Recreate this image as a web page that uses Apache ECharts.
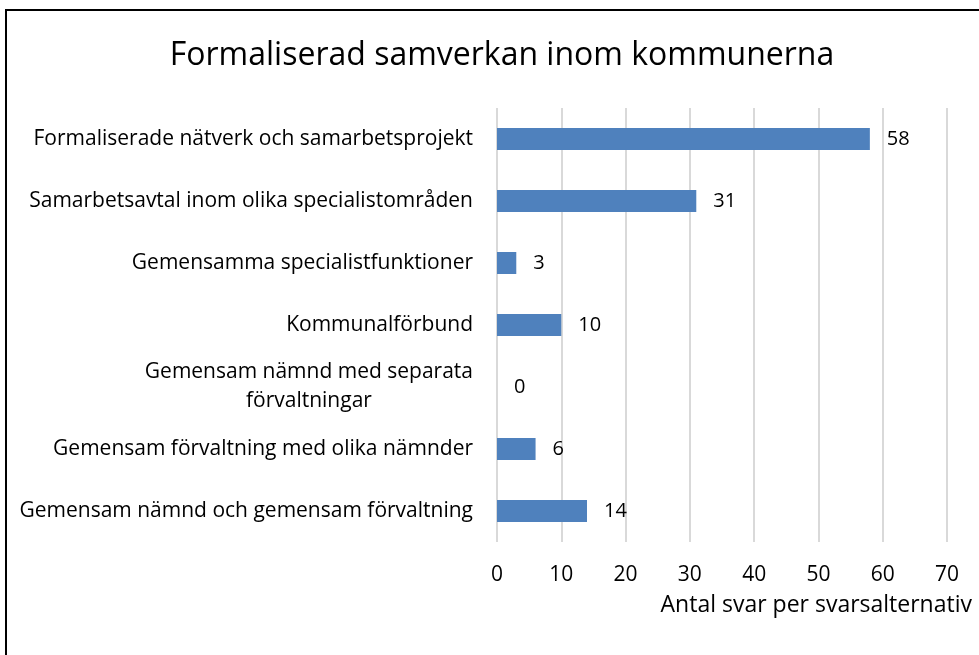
<!DOCTYPE html>
<html>
<head>
<meta charset="utf-8">
<script src="https://cdn.jsdelivr.net/npm/echarts@6/dist/echarts.min.js"></script>
<style>
  html, body { margin: 0; padding: 0; overflow: hidden; background: #fff; }
  #frame {
    position: absolute; left: 5px; top: 9px;
    width: 1100px; height: 800px;
    border: 2px solid #000;
  }
  #chart { position: absolute; left: 0; top: 0; width: 979px; height: 655px; }
</style>
</head>
<body>
<div id="frame"></div>
<div id="chart"></div>
<script>
  var categories = [
    "Formaliserade nätverk och samarbetsprojekt",
    "Samarbetsavtal inom olika specialistområden",
    "Gemensamma specialistfunktioner",
    "Kommunalförbund",
    "Gemensam nämnd med separata\nförvaltningar",
    "Gemensam förvaltning med olika nämnder",
    "Gemensam nämnd och gemensam förvaltning"
  ];
  var values = [58, 31, 3, 10, 0, 6, 14];
  var xTicks = { min: 0, max: 70, interval: 10 };

  var font = "Open Sans";
  var myChart = echarts.init(document.getElementById("chart"));

  var option = {
    animation: false,
    title: {
      text: "Formaliserad samverkan inom kommunerna",
      left: 497,
      top: 35,
      textAlign: "center",
      textStyle: {
        fontFamily: font,
        fontSize: 32,
        fontWeight: "normal",
        color: "#000"
      }
    },
    grid: {
      left: 497,
      right: 32,
      top: 108,
      height: 434
    },
    xAxis: {
      type: "value",
      min: xTicks.min,
      max: xTicks.max,
      interval: xTicks.interval,
      axisLine: { show: false },
      axisTick: { show: false },
      splitLine: { lineStyle: { color: "#d9d9d9", width: 2 } },
      axisLabel: {
        margin: 23,
        fontFamily: font,
        fontSize: 21,
        color: "#000"
      },
      name: "Antal svar per svarsalternativ",
      nameLocation: "end",
      nameGap: 25,
      nameTextStyle: {
        fontFamily: font,
        fontSize: 23,
        color: "#000",
        align: "right",
        verticalAlign: "top",
        padding: [52, 0, 0, 0]
      }
    },
    yAxis: {
      type: "category",
      inverse: true,
      data: categories,
      axisLine: { show: false },
      axisTick: { show: false },
      axisLabel: {
        margin: 24,
        fontFamily: font,
        fontSize: 21,
        color: "#000",
        formatter: function (v) {
          return v.split("\n").map(function (s) { return "{c|" + s + "}"; }).join("\n");
        },
        rich: {
          c: {
            align: "center",
            fontFamily: font,
            fontSize: 21,
            color: "#000",
            lineHeight: 29
          }
        }
      }
    },
    series: [
      {
        type: "bar",
        data: values,
        barWidth: 22,
        itemStyle: {
          color: "#4f81bd"
        },
        label: {
          show: true,
          position: "right",
          distance: 17,
          fontFamily: font,
          fontSize: 20,
          color: "#000"
        }
      }
    ]
  };

  myChart.setOption(option);
</script>
</body>
</html>
